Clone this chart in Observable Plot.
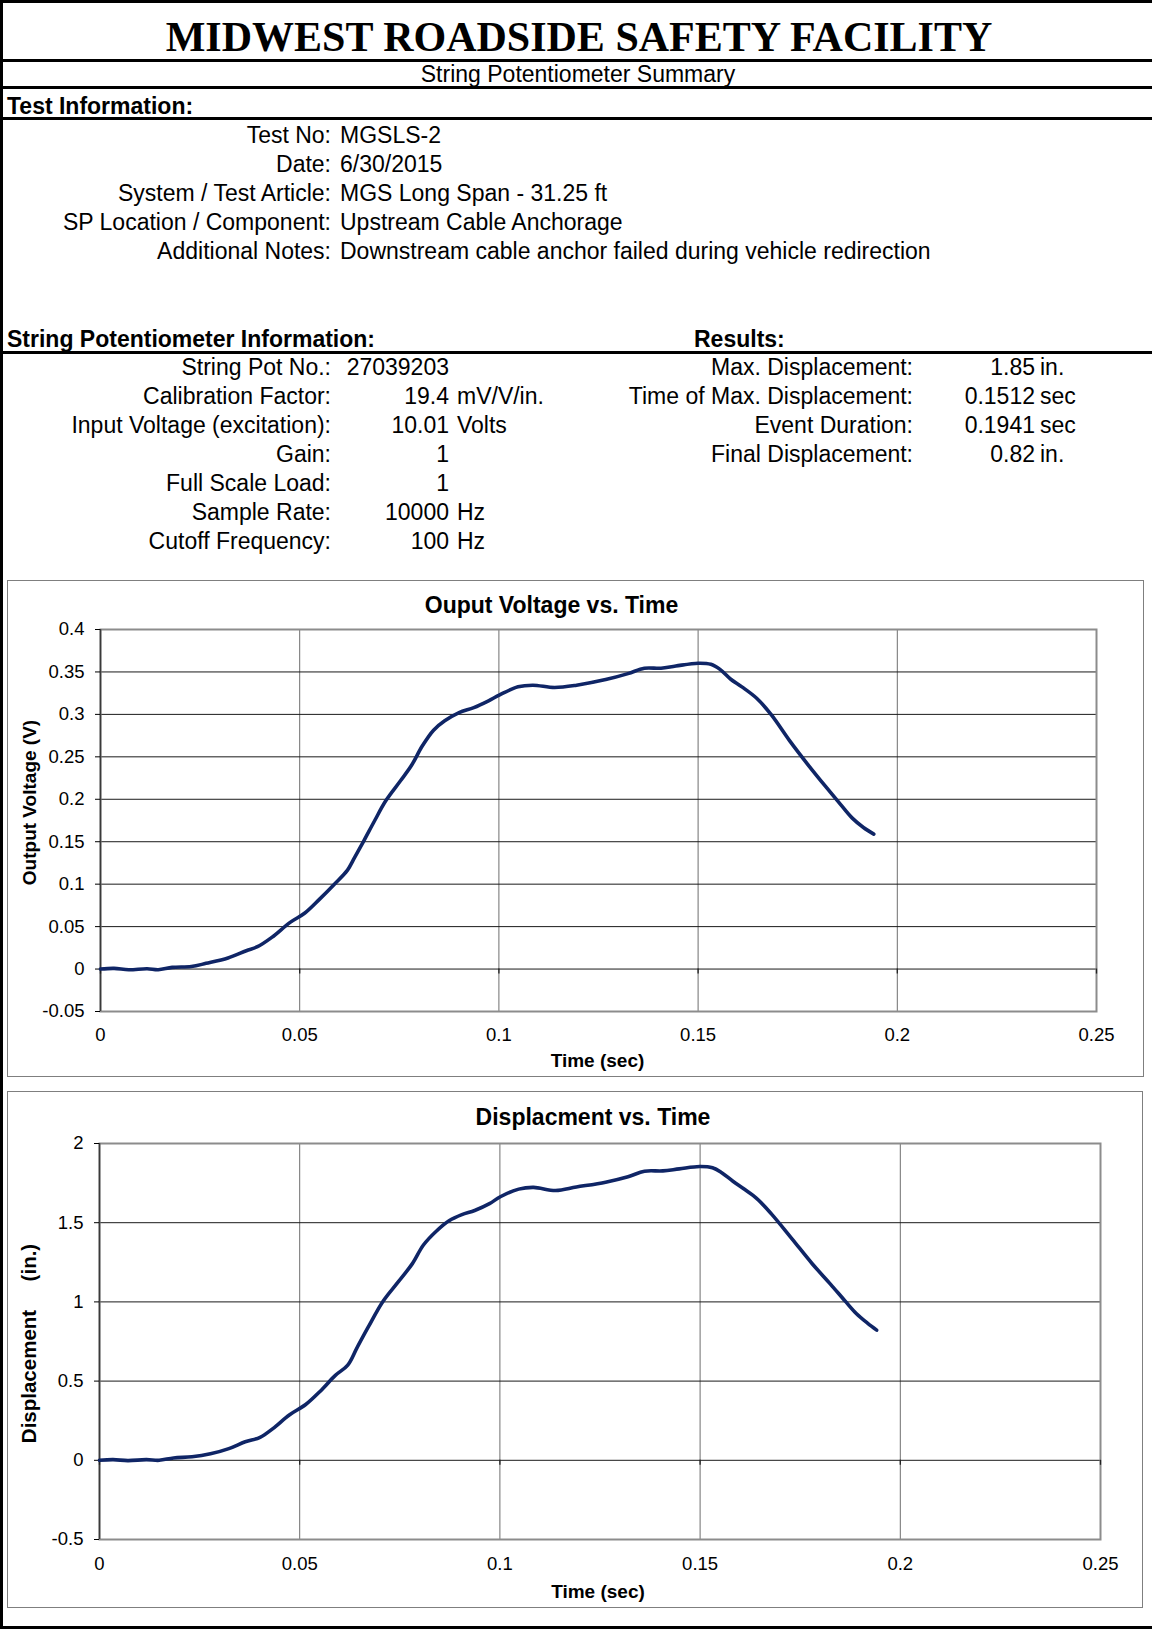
<!DOCTYPE html>
<html><head><meta charset="utf-8">
<script src="https://cdn.jsdelivr.net/npm/d3@7"></script>
<script src="https://cdn.jsdelivr.net/npm/@observablehq/plot@0.6"></script>
<style>
html,body{margin:0;padding:0;background:#fff;}
#page{position:relative;width:1152px;height:1629px;overflow:hidden;font-family:"Liberation Sans",Arial,sans-serif;color:#000;}
.t{position:absolute;white-space:pre;line-height:1;}
.hr{position:absolute;left:0;width:1152px;background:#000;}
.box{position:absolute;border:1.5px solid #7f7f7f;box-sizing:border-box;}
.chart{position:absolute;}
</style></head><body><div id="page"></div><script>
// ---------- data ----------
const pageTitle = "MIDWEST ROADSIDE SAFETY FACILITY";
const pageSubtitle = "String Potentiometer Summary";
const testHeader = "Test Information:";
const testLabels = ["Test No:", "Date:", "System / Test Article:", "SP Location / Component:", "Additional Notes:"];
const testValues = ["MGSLS-2", "6/30/2015", "MGS Long Span - 31.25 ft", "Upstream Cable Anchorage", "Downstream cable anchor failed during vehicle redirection"];
const spHeader = "String Potentiometer Information:";
const spLabels = ["String Pot No.:", "Calibration Factor:", "Input Voltage (excitation):", "Gain:", "Full Scale Load:", "Sample Rate:", "Cutoff Frequency:"];
const spValues = ["27039203", "19.4", "10.01", "1", "1", "10000", "100"];
const spUnits = ["", "mV/V/in.", "Volts", "", "", "Hz", "Hz"];
const resHeader = "Results:";
const resLabels = ["Max. Displacement:", "Time of Max. Displacement:", "Event Duration:", "Final Displacement:"];
const resValues = ["1.85", "0.1512", "0.1941", "0.82"];
const resUnits = ["in.", "sec", "sec", "in."];

const timeTicks = [0, 0.05, 0.1, 0.15, 0.2, 0.25];
const voltTicks = [-0.05, 0, 0.05, 0.1, 0.15, 0.2, 0.25, 0.3, 0.35, 0.4];
const dispTicks = [-0.5, 0, 0.5, 1, 1.5, 2];

const voltTime = [0, 0.0034, 0.0071, 0.0117, 0.0145, 0.018, 0.0228, 0.0265, 0.032, 0.0366, 0.0394, 0.043, 0.0476, 0.0513, 0.055, 0.0587, 0.062, 0.0638, 0.0661, 0.0688, 0.0716, 0.0753, 0.078, 0.0808, 0.0836, 0.0864, 0.09, 0.0937, 0.0974, 0.1002, 0.1048, 0.1085, 0.114, 0.1195, 0.1268, 0.1324, 0.1365, 0.1407, 0.1444, 0.15, 0.1532, 0.1555, 0.1582, 0.161, 0.1647, 0.1684, 0.173, 0.1776, 0.1822, 0.1859, 0.1887, 0.1915, 0.1941];
const voltValues = [0, 0.0008, -0.0008, 0.0004, -0.0008, 0.002, 0.003, 0.0067, 0.013, 0.0216, 0.0263, 0.0373, 0.055, 0.066, 0.0824, 0.1, 0.1166, 0.1315, 0.151, 0.1747, 0.1982, 0.2218, 0.2394, 0.263, 0.2814, 0.2924, 0.3022, 0.308, 0.316, 0.323, 0.3325, 0.3344, 0.3317, 0.3344, 0.341, 0.348, 0.3544, 0.3544, 0.357, 0.3603, 0.359, 0.353, 0.3414, 0.3324, 0.319, 0.2994, 0.2688, 0.2406, 0.2139, 0.1931, 0.1778, 0.1668, 0.159];

const dispTime = [0, 0.0034, 0.0071, 0.0117, 0.0149, 0.0185, 0.0231, 0.0277, 0.0323, 0.0364, 0.0401, 0.0433, 0.0474, 0.0515, 0.0552, 0.0589, 0.062, 0.0643, 0.0671, 0.0707, 0.0744, 0.0781, 0.0809, 0.0841, 0.0873, 0.0905, 0.0937, 0.0974, 0.1001, 0.1047, 0.1084, 0.1139, 0.1191, 0.1264, 0.132, 0.1361, 0.1407, 0.1448, 0.1499, 0.1531, 0.1554, 0.1582, 0.1609, 0.1641, 0.1678, 0.1729, 0.178, 0.1826, 0.1863, 0.189, 0.1918, 0.1941];
const dispValues = [0, 0.004, -0.002, 0.004, 0, 0.015, 0.022, 0.041, 0.074, 0.117, 0.145, 0.2, 0.286, 0.352, 0.438, 0.536, 0.601, 0.71, 0.84, 1.0, 1.12, 1.24, 1.359, 1.446, 1.512, 1.551, 1.577, 1.62, 1.664, 1.712, 1.723, 1.703, 1.725, 1.756, 1.79, 1.825, 1.827, 1.84, 1.855, 1.847, 1.816, 1.762, 1.714, 1.654, 1.556, 1.4, 1.241, 1.111, 1.003, 0.927, 0.866, 0.822];

// ---------- layout helpers ----------
const page = document.getElementById("page");
function txt(s, x, y, o = {}) {
  const size = o.size || 23;
  const d = document.createElement("div");
  d.className = "t";
  d.textContent = s;
  d.style.fontSize = size + "px";
  d.style.top = (y - size / 2) + "px";
  d.style.left = x + "px";
  if (o.bold) d.style.fontWeight = "bold";
  if (o.family) d.style.fontFamily = o.family;
  const a = o.align || "left";
  d.style.transform = a === "right" ? "translateX(-100%)" : a === "center" ? "translateX(-50%)" : "none";
  page.appendChild(d);
}
function hr(y, h) {
  const d = document.createElement("div");
  d.className = "hr"; d.style.top = y + "px"; d.style.height = h + "px";
  page.appendChild(d);
}
function vr(x, w, y0, y1) {
  const d = document.createElement("div");
  d.style.position = "absolute"; d.style.background = "#000";
  d.style.left = x + "px"; d.style.width = w + "px"; d.style.top = y0 + "px"; d.style.height = (y1 - y0) + "px";
  page.appendChild(d);
}
function box(x, y, w, h) {
  const d = document.createElement("div");
  d.className = "box";
  Object.assign(d.style, {left: x + "px", top: y + "px", width: w + "px", height: h + "px"});
  page.appendChild(d);
}

// page rules
hr(0, 3); hr(59, 3); hr(86, 3); hr(117, 3); hr(351, 3); hr(1626, 3);
vr(0, 3, 0, 1629);

// header texts
const FS = 23;
txt(pageTitle, 579, 37, {size: 42, bold: true, family: '"Liberation Serif","Times New Roman",serif', align: "center"});
txt(pageSubtitle, 578, 74, {size: FS, align: "center"});
txt(testHeader, 7, 106, {size: FS, bold: true});
testLabels.forEach((l, i) => {
  const y = 135 + i * 29.1;
  txt(l, 331, y, {size: FS, align: "right"});
  txt(testValues[i], 340, y, {size: FS});
});
txt(spHeader, 7, 339, {size: FS, bold: true});
txt(resHeader, 694, 339, {size: FS, bold: true});
spLabels.forEach((l, i) => {
  const y = 367 + i * 29.1;
  txt(l, 331, y, {size: FS, align: "right"});
  txt(spValues[i], 449, y, {size: FS, align: "right"});
  if (spUnits[i]) txt(spUnits[i], 457, y, {size: FS});
});
resLabels.forEach((l, i) => {
  const y = 367 + i * 29.1;
  txt(l, 913, y, {size: FS, align: "right"});
  txt(resValues[i], 1035, y, {size: FS, align: "right"});
  txt(resUnits[i], 1040, y, {size: FS});
});

// ---------- charts ----------
const fmt = d => String(d);
const lineColor = "#0f2566";
const font = '"Liberation Sans", Arial, sans-serif';

function chart(cfg) {
  const data = cfg.t.map((t, i) => ({t, v: cfg.v[i]}));
  const p = Plot.plot({
    width: cfg.width, height: cfg.height,
    marginLeft: cfg.ml, marginRight: cfg.mr, marginTop: cfg.mt, marginBottom: cfg.mb,
    style: {fontFamily: font, fontSize: "18.5px", color: "#000", background: "transparent", overflow: "visible"},
    x: {domain: [0, 0.25], nice: false},
    y: {domain: cfg.yDomain, nice: false},
    marks: [
      Plot.gridX(timeTicks, {stroke: "#6e6e6e", strokeOpacity: 1, strokeWidth: 1}),
      Plot.gridY(cfg.yTicks, {stroke: "#1a1a1a", strokeOpacity: 1, strokeWidth: 1}),
      Plot.frame({stroke: "#8c8c8c", strokeWidth: 2}),
      Plot.ruleX([0], {stroke: "#3a3a3a", strokeWidth: 1.5}),
      Plot.ruleX(timeTicks, {y1: 0, y2: 0, insetBottom: -5, stroke: "#222", strokeWidth: 1.3}),
      Plot.axisY(cfg.yTicks, {tickSize: 5, tickPadding: 11, tickFormat: fmt, label: null, fontSize: 18.5}),
      Plot.axisX(timeTicks, {tickSize: 0, tickPadding: cfg.xPad, tickFormat: fmt, label: null, fontSize: 18.5}),
      Plot.line(data, {x: "t", y: "v", stroke: lineColor, strokeWidth: 3.6, curve: "catmull-rom", strokeLinecap: "round", strokeLinejoin: "round"}),
      Plot.text([cfg.title], {frameAnchor: "top", text: d => d, textAnchor: "middle", dx: cfg.titleDx, dy: cfg.titleDy, lineAnchor: "middle", fontWeight: "bold", fontSize: 23}),
      Plot.text([cfg.xLabel], {frameAnchor: "bottom", text: d => d, textAnchor: "middle", dx: cfg.xLabDx, dy: cfg.xLabDy, lineAnchor: "middle", fontWeight: "bold", fontSize: 19}),
      Plot.text([cfg.yLabel], {frameAnchor: "left", text: d => d, textAnchor: "middle", dx: cfg.yLabDx, dy: cfg.yLabDy, rotate: -90, lineAnchor: "middle", fontWeight: "bold", fontSize: cfg.yLabSize})
    ]
  });
  p.classList.add("chart");
  p.style.left = cfg.left + "px";
  p.style.top = cfg.top + "px";
  p.querySelectorAll("text").forEach(t => t.setAttribute("xml:space", "preserve"));
  box(cfg.left, cfg.top, cfg.width, cfg.height);
  page.appendChild(p);
}

chart({
  t: voltTime, v: voltValues, yDomain: [-0.05, 0.4], yTicks: voltTicks,
  left: 7, top: 580, width: 1137, height: 497, ml: 93, mr: 48, mt: 49, mb: 66, xPad: 16,
  title: "Ouput Voltage vs. Time", titleDx: -47, titleDy: -24,
  xLabel: "Time (sec)", xLabDx: -1, xLabDy: 49,
  yLabel: "Output Voltage (V)", yLabDx: -71, yLabDy: -18, yLabSize: 19
});
chart({
  t: dispTime, v: dispValues, yDomain: [-0.5, 2], yTicks: dispTicks,
  left: 7, top: 1091, width: 1136, height: 517, ml: 92, mr: 43, mt: 52, mb: 69, xPad: 17,
  title: "Displacment vs. Time", titleDx: -7, titleDy: -26,
  xLabel: "Time (sec)", xLabDx: -2, xLabDy: 52,
  yLabel: "Displacement     (in.)", yLabDx: -70, yLabDy: 2, yLabSize: 20.5
});
</script></body></html>
